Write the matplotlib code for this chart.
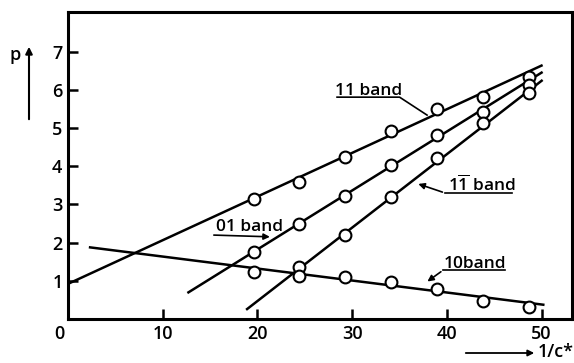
import numpy as np
import matplotlib.pyplot as plt

# reciprocal spacing values where p was measured
x_pts = [19.6, 24.4, 29.2, 34.1, 38.9, 43.8, 48.7]
x_11bar = [24.4, 29.2, 34.1, 38.9, 43.8, 48.7]

p_11 = [3.14, 3.59, 4.24, 4.92, 5.50, 5.81, 6.34]
p_01 = [1.75, 2.49, 3.22, 4.03, 4.82, 5.42, 6.13]
p_11bar = [1.36, 2.20, 3.19, 4.21, 5.13, 5.92]
p_10 = [1.23, 1.13, 1.10, 0.97, 0.79, 0.47, 0.31]

# straight lines drawn through each band (end points)
fit_11_x, fit_11_p = [0.0, 50.1], [0.92, 6.65]
fit_01_x, fit_01_p = [12.6, 50.1], [0.68, 6.47]
fit_11bar_x, fit_11bar_p = [18.8, 50.1], [0.24, 6.26]
fit_10_x, fit_10_p = [2.2, 50.3], [1.88, 0.37]

x_ticks = [10, 20, 30, 40, 50]
y_ticks = [1, 2, 3, 4, 5, 6, 7]

plt.rcParams['font.family'] = ['Open Sans', 'DejaVu Sans']
plt.rcParams['font.weight'] = 'semibold'
plt.rcParams['mathtext.fontset'] = 'custom'
plt.rcParams['mathtext.rm'] = 'Open Sans:semibold'

W, H = 574, 363
fig = plt.figure(figsize=(W / 100, H / 100), dpi=100)
ax = fig.add_axes([68 / W, 1 - 319 / H, (572 - 68) / W, (319 - 12) / H])

lw = 1.8
for fx, fp in [(fit_11_x, fit_11_p), (fit_01_x, fit_01_p),
               (fit_11bar_x, fit_11bar_p), (fit_10_x, fit_10_p)]:
    ax.plot(fx, fp, color='black', lw=lw, solid_capstyle='butt')

marker_kw = dict(ls='none', marker='o', ms=8.5, mfc='white', mec='black', mew=1.5, zorder=3)
ax.plot(x_pts, p_11, **marker_kw)
ax.plot(x_pts, p_01, **marker_kw)
ax.plot(x_11bar, p_11bar, **marker_kw)
ax.plot(x_pts, p_10, **marker_kw)

ax.set_xlim(0, 53.2)
ax.set_ylim(0, 8.04)
ax.set_xticks(x_ticks)
ax.set_yticks(y_ticks)
ax.tick_params(direction='in', length=7, width=1.8, labelsize=13, pad=4)
for s in ax.spines.values():
    s.set_linewidth(2.2)
ax.text(-0.9, -0.15, '0', ha='center', va='top', fontsize=13)

# band labels with underline and leader
lab_fs = 12.5
ax.text(28.2, 5.86, '11 band', fontsize=lab_fs, va='baseline', ha='left')
ax.plot([28.4, 35.0, 37.9], [5.81, 5.81, 5.34], color='black', lw=1.2)

ax.text(15.6, 2.30, '01 band', fontsize=lab_fs, va='baseline', ha='left')
ax.annotate('', xy=(21.6, 2.15), xytext=(15.1, 2.20),
            arrowprops=dict(arrowstyle='-|>', color='black', lw=1.2, mutation_scale=9))

ax.text(40.1, 3.35, r'1$\overline{\mathrm{1}}$ band', fontsize=lab_fs, va='baseline', ha='left')
ax.plot([46.9, 39.8], [3.30, 3.30], color='black', lw=1.2)
ax.annotate('', xy=(36.7, 3.56), xytext=(39.8, 3.30),
            arrowprops=dict(arrowstyle='-|>', color='black', lw=1.2, mutation_scale=9))

ax.text(39.7, 1.33, '10band', fontsize=lab_fs, va='baseline', ha='left')
ax.plot([46.1, 39.6], [1.28, 1.28], color='black', lw=1.2)
ax.annotate('', xy=(37.7, 0.94), xytext=(39.6, 1.28),
            arrowprops=dict(arrowstyle='-|>', color='black', lw=1.2, mutation_scale=9))

# axis names with arrows outside the frame
fig.text(15 / W, 1 - 55 / H, 'p', fontsize=13, ha='center', va='center')
fig.patches.append(plt.matplotlib.patches.FancyArrowPatch(
    (29 / W, 1 - 122 / H), (29 / W, 1 - 44 / H), transform=fig.transFigure,
    arrowstyle='-|>', mutation_scale=10, lw=1.5, color='black'))
fig.text(538 / W, 1 - 352 / H, '1/c*', fontsize=13, ha='left', va='center')
fig.patches.append(plt.matplotlib.patches.FancyArrowPatch(
    (463 / W, 1 - 353 / H), (537 / W, 1 - 353 / H), transform=fig.transFigure,
    arrowstyle='-|>', mutation_scale=9, lw=1.3, color='black'))

fig.savefig('out.png', dpi=100)
